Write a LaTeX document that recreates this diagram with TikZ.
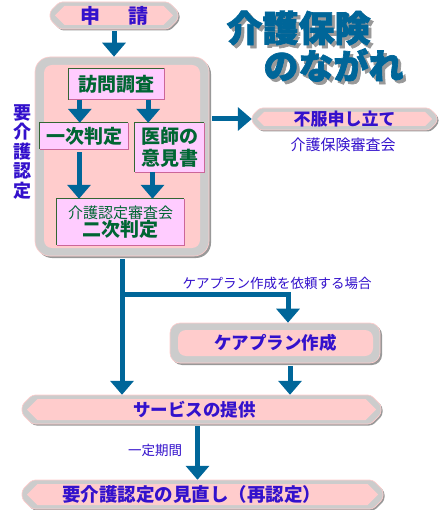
\documentclass[tikz,border=0pt]{standalone}
\usepackage{fontspec}
\setmainfont{Noto Sans CJK JP}
\newfontfamily\titlefont{Noto Sans CJK JP}[BoldFeatures={FakeBold=2}]
\usetikzlibrary{arrows.meta,calc}
\definecolor{arrowblue}{HTML}{006699}
\definecolor{boxgray}{HTML}{CCCCCC}
\definecolor{shadowgray}{HTML}{999999}
\definecolor{pinkfill}{HTML}{FFCCCC}
\definecolor{lilac}{HTML}{FFCCFF}
\definecolor{txtblue}{HTML}{3311CC}
\definecolor{txtgreen}{HTML}{006633}
\definecolor{edgegreen}{HTML}{336633}
\definecolor{edgepink}{HTML}{CC6699}
\tikzset{
  arr/.style={draw=arrowblue, line width=5pt, -{Triangle[width=23pt,length=14pt]}},
  lilacbox/.style={fill=lilac, text=txtblue, inner sep=0pt, font=\bfseries},
  pilltext/.style={inner sep=0pt, text=txtblue, font=\bfseries},
  plain/.style={inner sep=0pt, text=txtblue},
  titletext/.style={inner sep=0pt, text=arrowblue},
}
\tikzset{lilacbox/.append style={text=txtgreen}}
\newcommand\pillshape[4]{%
\begin{scope}[shift={(#1,#2)}]
 \pgfmathsetmacro\pillc{#4*0.35}
 \begin{scope}[shift={(1.5,1.5)}]
  \fill[shadowgray,rounded corners=3pt] (0,\pillc) -- (\pillc,0) -- ({#3-\pillc},0) -- (#3,\pillc) -- (#3,{#4-\pillc}) -- ({#3-\pillc},#4) -- (\pillc,#4) -- (0,{#4-\pillc}) -- cycle;
 \end{scope}
 \filldraw[fill=boxgray,draw=pinkfill,line width=0.6pt,rounded corners=3pt] (0,\pillc) -- (\pillc,0) -- ({#3-\pillc},0) -- (#3,\pillc) -- (#3,{#4-\pillc}) -- ({#3-\pillc},#4) -- (\pillc,#4) -- (0,{#4-\pillc}) -- cycle;
 \fill[pinkfill] (5,{#4/2}) -- ({1+#4/2},4) -- ({#3-1-#4/2},4) -- ({#3-5},{#4/2}) -- ({#3-1-#4/2},{#4-4}) -- ({1+#4/2},{#4-4}) -- cycle;
\end{scope}}
\newcommand\twotone[1]{%
 \draw[edgegreen,line width=1.3pt] (#1.south west) -- (#1.north west) -- (#1.north east);
 \draw[edgepink,line width=1.3pt] (#1.north east) -- (#1.south east) -- (#1.south west);}
\newcommand\shadowed[1]{\rlap{\hspace{3pt}\raisebox{-3pt}{\color{shadowgray}#1}}#1}
\begin{document}
\begin{tikzpicture}[x=1pt,y=-1pt]
\useasboundingbox[fill=white] (0,0) rectangle (439,510);

% title
\node[titletext, font=\titlefont\fontsize{36}{36}\bfseries\selectfont] (title1) at (298.5,29.5) {\shadowed{介護保険}};
\node[titletext, font=\titlefont\fontsize{35}{35}\bfseries\selectfont] (title2) at (333.5,66.5) {\shadowed{のながれ}};

% 申請
\pillshape{50}{2}{128}{27}
\node[pilltext, minimum width=128pt, minimum height=27pt, font=\fontsize{20}{20}\bfseries\selectfont] (shinsei) at (114,15.5) {申\hspace{28pt}請};

% big box
\fill[shadowgray, rounded corners=15pt] (37,59) rectangle (211,258);
\node[fill=boxgray, draw=pinkfill, line width=0.6pt, rounded corners=15pt, minimum width=174pt, minimum height=199pt, inner sep=0pt] (bigbox) at (122,156.5) {};
\fill[pinkfill, rounded corners=8pt] (44,65) rectangle (200,248);

\node[plain, align=center, font=\fontsize{18}{19.5}\bfseries\selectfont] (youkaigo) at (22,152) {要\\介\\護\\認\\定};

% inner boxes
\node[lilacbox, minimum width=95pt, minimum height=31pt, font=\fontsize{19}{19}\bfseries\selectfont] (houmon) at (116.5,84) {訪問調査};
\twotone{houmon}
\node[lilacbox, minimum width=88pt, minimum height=26pt, font=\fontsize{19}{19}\bfseries\selectfont] (ichiji) at (84,136) {一次判定};
\twotone{ichiji}
\node[lilacbox, minimum width=69pt, minimum height=49pt, align=center, font=\fontsize{19}{22}\bfseries\selectfont] (ishi) at (169.5,147.5) {医師の\\意見書};
\twotone{ishi}
\node[lilacbox, minimum width=127pt, minimum height=46pt, align=center] (niji) at (120.5,222) {{\fontsize{15}{19}\mdseries\selectfont 介護認定審査会}\\{\fontsize{19}{21}\bfseries\selectfont 二次判定}};
\twotone{niji}

% 不服申し立て
\pillshape{252}{108}{185}{22}
\node[pilltext, minimum width=185pt, minimum height=22pt, font=\fontsize{17}{17}\bfseries\selectfont] (fufuku) at (344.5,119) {不服申し立て};
\node[plain, font=\fontsize{15}{15}\selectfont] (shinsakai) at (343,145) {介護保険審査会};

% ケアプラン作成
\fill[shadowgray, rounded corners=10pt] (172,325) rectangle (382,365);
\node[fill=boxgray, draw=pinkfill, line width=0.6pt, rounded corners=10pt, minimum width=210pt, minimum height=40pt, inner sep=0pt] (careplan) at (275,343) {};
\fill[pinkfill, rounded corners=8pt] (178,330) rectangle (373,356);
\node[pilltext, font=\fontsize{17.5}{17.5}\bfseries\selectfont] (cptext) at (275.5,343) {ケアプラン作成};
\node[plain, font=\fontsize{13.5}{13.5}\selectfont] (irai) at (277,283) {ケアプラン作成を依頼する場合};

% サービスの提供
\pillshape{22}{395}{359}{29}
\node[pilltext, minimum width=359pt, minimum height=29pt, font=\fontsize{17.5}{17.5}\bfseries\selectfont] (service) at (201.5,409.5) {\hspace{-14pt}サービスの提供};
\node[plain, font=\fontsize{13.5}{13.5}\selectfont] (kikan) at (155,450) {一定期間};

% 見直し
\pillshape{22}{480}{361}{29}
\node[pilltext, minimum width=361pt, minimum height=29pt, font=\fontsize{18.5}{18.5}\bfseries\selectfont] (review) at (202.5,494.5) {\hspace{-22pt}要介護認定の見直し（再認定）};

% connectors
\draw[arr, shorten <=2pt] (shinsei.south) -- (shinsei.south |- bigbox.north);
\coordinate (a1) at ([xshift=11pt]houmon.south west);
\coordinate (a2) at ([xshift=-16pt]houmon.south east);
\draw[arr] (a1) -- (a1 |- ichiji.north);
\draw[arr] (a2) -- (a2 |- ishi.north);
\coordinate (b1) at ([xshift=-5pt]ichiji.south);
\coordinate (b2) at ([xshift=-17pt]ishi.south);
\draw[arr, shorten <=3pt] (b1) -- (b1 |- niji.north);
\draw[arr] (b2) -- (b2 |- niji.north);
\draw[arr, shorten <=3pt] (bigbox.east |- fufuku.west) -- (fufuku.west);
\coordinate (d0) at (bigbox.south);
\draw[arr, shorten <=3pt] (d0) -- (d0 |- service.north);
\coordinate (br) at (122.5,294.5);
\coordinate (e) at ([xshift=13pt]careplan.north);
\draw[arr] (br) -| (e);
\coordinate (g) at ([xshift=15pt]careplan.south);
\draw[arr, shorten <=3pt] (g) -- (g |- service.north);
\coordinate (h) at ([xshift=-4pt]service.south);
\draw[arr, shorten <=2pt] (h) -- (h |- review.north);
\end{tikzpicture}
\end{document}
